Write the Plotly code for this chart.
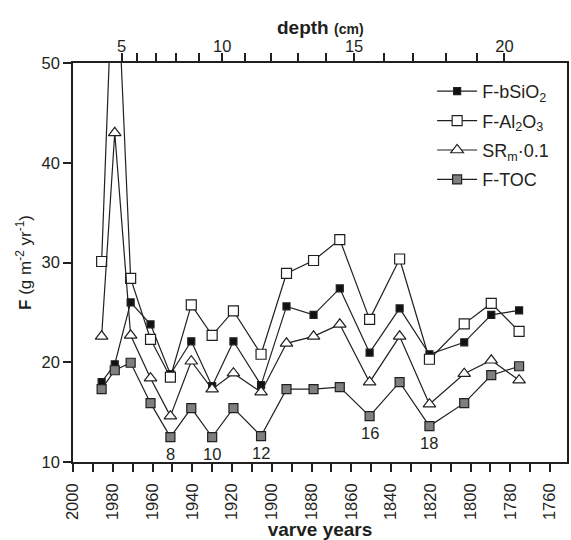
import plotly.graph_objects as go

# ---- data ----
years = [1985.6, 1979, 1971, 1961, 1951, 1940.5, 1930, 1919.3, 1905.4, 1892.6,
         1879, 1865.8, 1850.8, 1835.7, 1820.7, 1803.2, 1789.6, 1775.6]
f_bsio2 = [18.0, 19.8, 26.0, 23.8, 18.8, 22.1, 17.6, 22.1, 17.7, 25.6,
           24.75, 27.4, 20.96, 25.4, 20.8, 22.0, 24.75, 25.2]
f_al2o3 = [30.1, 65.0, 28.4, 22.3, 18.5, 25.75, 22.7, 25.15, 20.8, 28.9,
           30.2, 32.3, 24.3, 30.35, 20.3, 23.85, 25.9, 23.1]
sr_m = [22.6, 43.0, 22.7, 18.4, 14.6, 20.1, 17.3, 18.9, 17.0, 21.9,
        22.6, 23.8, 18.0, 22.6, 15.8, 18.85, 20.2, 18.2]
f_toc = [17.3, 19.2, 19.95, 15.9, 12.5, 15.4, 12.5, 15.4, 12.6, 17.3,
         17.3, 17.5, 14.6, 18.0, 13.6, 15.9, 18.7, 19.6]

# age-depth: depth (cm) and corresponding varve year
depth_cm = [5, 6, 7, 8, 9, 10, 11, 12, 13, 14, 15, 16, 17, 18, 19, 20]
depth_year = [1975.6, 1967.6, 1958.0, 1948.0, 1936.5, 1924.9, 1913.4, 1900.6,
              1886.6, 1872.7, 1858.6, 1843.5, 1828.9, 1812.5, 1796.8, 1783.0]
depth_labels = [str(d) if d % 5 == 0 else "" for d in depth_cm]

# depth labels written under F-TOC points
label_idx = [4, 6, 8, 12, 14]
label_text = ["8", "10", "12", "16", "18"]

FONT = "Liberation Sans, Arial, Helvetica, sans-serif"
TXT = "#231f20"
LINE = "#231f20"

fig = go.Figure()

def add(name, y, symbol, size, fill, grp):
    fig.add_trace(go.Scatter(
        x=years, y=y, name=name, mode="lines+markers", legendgroup=grp,
        line=dict(color=LINE, width=1.2),
        marker=dict(symbol=symbol, size=size, color=fill,
                    line=dict(color=LINE, width=1.2)),
        cliponaxis=True,
    ))

add("F-bSiO<sub>2</sub>", f_bsio2, "square", 7, "#111111", "a")
add("F-Al<sub>2</sub>O<sub>3</sub>", f_al2o3, "square", 10, "white", "b")
add("SR<sub>m</sub>·0.1", sr_m, "triangle-up", 11, "white", "c")
add("F-TOC", f_toc, "square", 9, "#7f7f7f", "d")

# invisible trace to anchor the top depth axis
fig.add_trace(go.Scatter(x=depth_year, y=[None] * len(depth_year), xaxis="x2",
                         mode="markers", showlegend=False, hoverinfo="skip",
                         marker=dict(opacity=0)))

for i, t in zip(label_idx, label_text):
    fig.add_annotation(x=years[i], y=f_toc[i], text=t, showarrow=False,
                       yshift=-17, font=dict(size=16.5, color=TXT, family=FONT))

# top axis title
fig.add_annotation(x=0.5, y=1, xref="paper", yref="paper", yanchor="middle",
                   yshift=36, showarrow=False,
                   text="<b>depth <span style='font-size:14px'>(cm)</span></b>",
                   font=dict(size=19, color=TXT, family=FONT))

axis_common = dict(showline=True, linecolor=LINE, linewidth=1.5,
                   ticks="outside", ticklen=8, tickwidth=1.5, tickcolor=LINE,
                   showgrid=False, zeroline=False,
                   tickfont=dict(size=16.5, color=TXT, family=FONT))

fig.update_layout(
    width=571, height=540,
    margin=dict(l=73, r=2, t=63, b=78),
    paper_bgcolor="white", plot_bgcolor="white",
    font=dict(family=FONT, color=TXT),
    showlegend=True,
    legend=dict(x=0.727, y=0.975, xanchor="left", yanchor="top",
                bgcolor="rgba(0,0,0,0)", font=dict(size=18, color=TXT, family=FONT),
                itemwidth=40, traceorder="grouped", tracegroupgap=3),
    xaxis=dict(range=[2000, 1751.5], tickmode="linear", tick0=2000, dtick=20,
               tickangle=-90, ticklabelstandoff=5,
               minor=dict(dtick=10, ticks="outside", ticklen=8, tickwidth=1.5,
                          tickcolor=LINE, showgrid=False),
               title=dict(text="<b>varve years</b>", font=dict(size=19, color=TXT, family=FONT),
                          standoff=2),
               **axis_common),
    xaxis2=dict(overlaying="x", side="top", range=[2000, 1751.5], anchor="y",
                tickmode="array", tickvals=depth_year, ticktext=depth_labels,
                ticklabelstandoff=-5,
                **axis_common),
    yaxis=dict(range=[10, 50], tickmode="linear", tick0=10, dtick=10,
               mirror=True,
               title=dict(text="<b>F</b> (g m<sup>-2</sup> yr<sup>-1</sup>)",
                          font=dict(size=17, color=TXT, family=FONT), standoff=6),
               **axis_common),
)

fig.write_html("out.html")
